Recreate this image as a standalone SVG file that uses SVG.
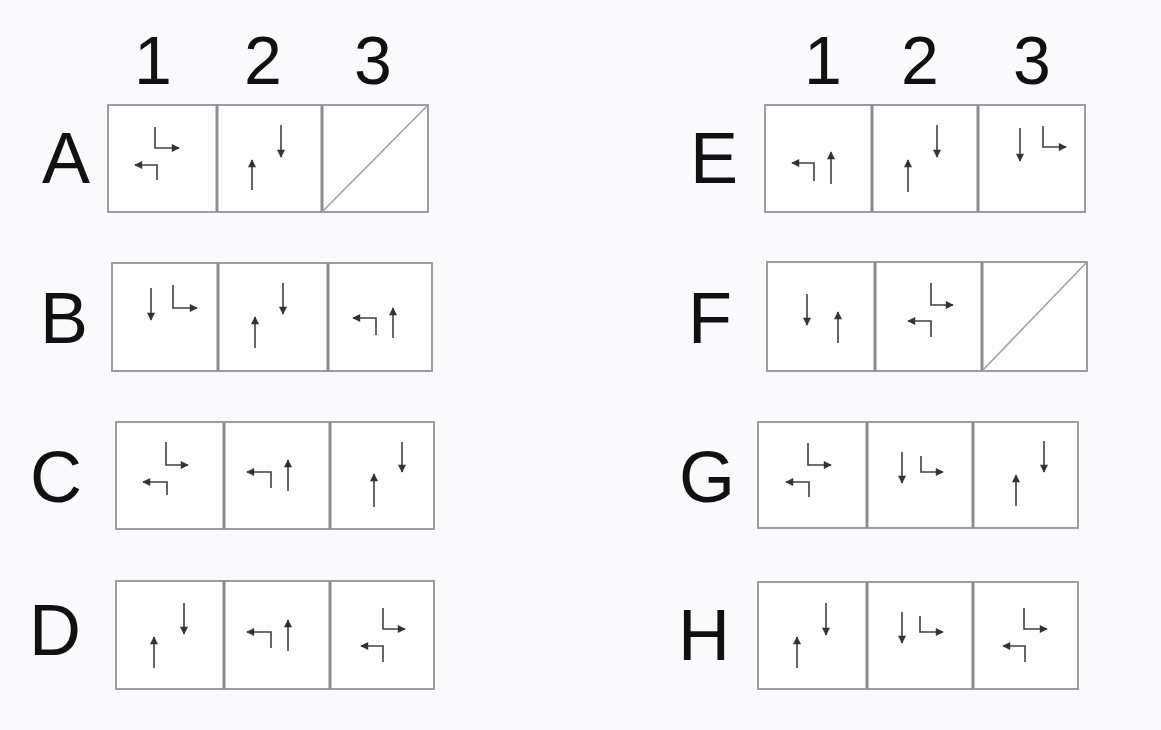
<svg xmlns="http://www.w3.org/2000/svg" width="1161" height="730" viewBox="0 0 1161 730">
<defs>
<marker id="ah" viewBox="0 0 10 10" refX="9" refY="5" markerWidth="9" markerHeight="8" markerUnits="userSpaceOnUse" orient="auto">
<path d="M0,0 L10,5 L0,10 z" fill="#333"/>
</marker>
</defs>
<style>
.bg{fill:#fafafc}
.cell{fill:#fdfdfe;stroke:#9d9d9d;stroke-width:2}
.div{stroke:#8c8c8c;stroke-width:3}
.diag{stroke:#a0a0a0;stroke-width:1.5;fill:none}
.ar{fill:none;stroke:#404040;stroke-width:1.6;marker-end:url(#ah)}
.lbl{font-family:"Liberation Sans",Arial,sans-serif;fill:#111;text-anchor:middle}
.num{font-size:68px}
.let{font-size:72px}
</style>
<rect class="bg" x="0" y="0" width="1161" height="730"/>

<g id="headers">
<text class="lbl num" x="153" y="84">1</text>
<text class="lbl num" x="263" y="84">2</text>
<text class="lbl num" x="373" y="84">3</text>
<text class="lbl num" x="823" y="84">1</text>
<text class="lbl num" x="920" y="84">2</text>
<text class="lbl num" x="1032" y="84">3</text>
</g>
<g id="row-labels">
<text class="lbl let" x="66" y="183">A</text>
<text class="lbl let" x="64" y="343">B</text>
<text class="lbl let" x="56" y="502">C</text>
<text class="lbl let" x="55" y="655">D</text>
<text class="lbl let" x="714" y="183">E</text>
<text class="lbl let" x="710" y="343">F</text>
<text class="lbl let" x="707" y="502">G</text>
<text class="lbl let" x="704" y="660">H</text>
</g>

<g id="A1"><rect class="cell" x="108" y="105" width="109" height="107"/></g>
<g id="A2"><rect class="cell" x="217" y="105" width="105" height="107"/><line class="div" x1="217" y1="105" x2="217" y2="212"/></g>
<g id="A3"><rect class="cell" x="322" y="105" width="106" height="107"/><line class="div" x1="322" y1="105" x2="322" y2="212"/><line class="diag" x1="322" y1="212" x2="428" y2="105"/></g>

<g id="B1"><rect class="cell" x="112" y="263" width="106" height="108"/></g>
<g id="B2"><rect class="cell" x="218" y="263" width="110" height="108"/><line class="div" x1="218" y1="263" x2="218" y2="371"/></g>
<g id="B3"><rect class="cell" x="328" y="263" width="104" height="108"/><line class="div" x1="328" y1="263" x2="328" y2="371"/></g>

<g id="C1"><rect class="cell" x="116" y="422" width="108" height="107"/></g>
<g id="C2"><rect class="cell" x="224" y="422" width="106" height="107"/><line class="div" x1="224" y1="422" x2="224" y2="529"/></g>
<g id="C3"><rect class="cell" x="330" y="422" width="104" height="107"/><line class="div" x1="330" y1="422" x2="330" y2="529"/></g>

<g id="D1"><rect class="cell" x="116" y="581" width="108" height="108"/></g>
<g id="D2"><rect class="cell" x="224" y="581" width="106" height="108"/><line class="div" x1="224" y1="581" x2="224" y2="689"/></g>
<g id="D3"><rect class="cell" x="330" y="581" width="104" height="108"/><line class="div" x1="330" y1="581" x2="330" y2="689"/></g>

<g id="E1"><rect class="cell" x="765" y="105" width="107" height="107"/></g>
<g id="E2"><rect class="cell" x="872" y="105" width="106" height="107"/><line class="div" x1="872" y1="105" x2="872" y2="212"/></g>
<g id="E3"><rect class="cell" x="978" y="105" width="107" height="107"/><line class="div" x1="978" y1="105" x2="978" y2="212"/></g>

<g id="F1"><rect class="cell" x="767" y="262" width="108" height="109"/></g>
<g id="F2"><rect class="cell" x="875" y="262" width="107" height="109"/><line class="div" x1="875" y1="262" x2="875" y2="371"/></g>
<g id="F3"><rect class="cell" x="982" y="262" width="105" height="109"/><line class="div" x1="982" y1="262" x2="982" y2="371"/><line class="diag" x1="982" y1="371" x2="1087" y2="262"/></g>

<g id="G1"><rect class="cell" x="758" y="422" width="109" height="106"/></g>
<g id="G2"><rect class="cell" x="867" y="422" width="106" height="106"/><line class="div" x1="867" y1="422" x2="867" y2="528"/></g>
<g id="G3"><rect class="cell" x="973" y="422" width="105" height="106"/><line class="div" x1="973" y1="422" x2="973" y2="528"/></g>

<g id="H1"><rect class="cell" x="758" y="582" width="109" height="107"/></g>
<g id="H2"><rect class="cell" x="867" y="582" width="106" height="107"/><line class="div" x1="867" y1="582" x2="867" y2="689"/></g>
<g id="H3"><rect class="cell" x="973" y="582" width="105" height="107"/><line class="div" x1="973" y1="582" x2="973" y2="689"/></g>

<g id="connectors">
<path class="ar" d="M155,127 V148 H179"/><path class="ar" d="M157,180 V165 H135"/>
<path class="ar" d="M252,190 V160"/><path class="ar" d="M281,125 V157"/>
<path class="ar" d="M151,288 V320"/><path class="ar" d="M173,285 V308 H197"/>
<path class="ar" d="M255,348 V317"/><path class="ar" d="M283,283 V314"/>
<path class="ar" d="M376,335 V318 H353"/><path class="ar" d="M393,338 V308"/>
<path class="ar" d="M166,442 V465 H188"/><path class="ar" d="M167,495 V482 H143"/>
<path class="ar" d="M271,488 V472 H247"/><path class="ar" d="M288,491 V460"/>
<path class="ar" d="M374,507 V474"/><path class="ar" d="M402,442 V472"/>
<path class="ar" d="M154,668 V637"/><path class="ar" d="M184,603 V634"/>
<path class="ar" d="M271,648 V632 H247"/><path class="ar" d="M288,651 V620"/>
<path class="ar" d="M383,608 V629 H405"/><path class="ar" d="M383,662 V646 H361"/>
<path class="ar" d="M814,181 V163 H792"/><path class="ar" d="M831,184 V152"/>
<path class="ar" d="M908,192 V160"/><path class="ar" d="M937,125 V157"/>
<path class="ar" d="M1020,128 V161"/><path class="ar" d="M1043,126 V147 H1066"/>
<path class="ar" d="M807,294 V325"/><path class="ar" d="M838,343 V312"/>
<path class="ar" d="M931,283 V305 H953"/><path class="ar" d="M931,337 V321 H908"/>
<path class="ar" d="M808,443 V465 H831"/><path class="ar" d="M809,497 V482 H786"/>
<path class="ar" d="M902,452 V483"/><path class="ar" d="M921,456 V472 H943"/>
<path class="ar" d="M1016,506 V475"/><path class="ar" d="M1044,441 V472"/>
<path class="ar" d="M797,668 V637"/><path class="ar" d="M826,603 V635"/>
<path class="ar" d="M902,612 V643"/><path class="ar" d="M920,616 V632 H943"/>
<path class="ar" d="M1024,608 V629 H1047"/><path class="ar" d="M1025,662 V646 H1003"/>
</g>
</svg>
